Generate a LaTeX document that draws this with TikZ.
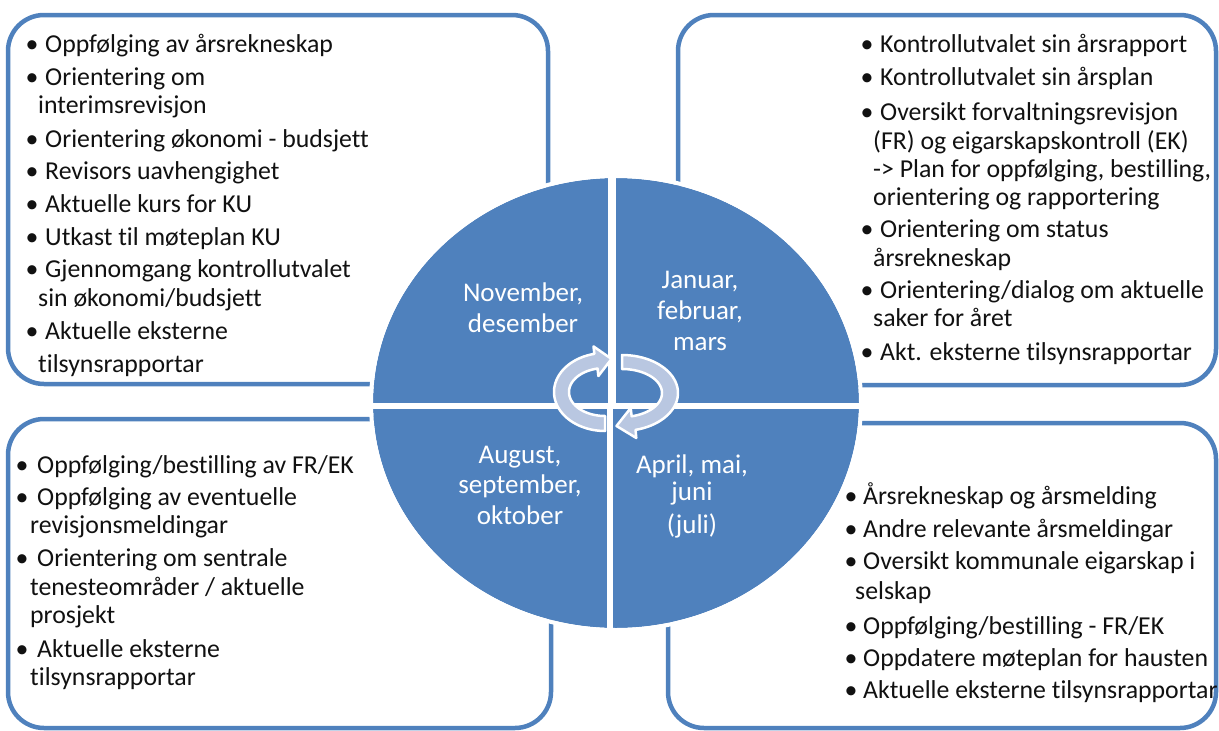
\documentclass[tikz,border=0pt]{standalone}
\usepackage{fontspec}
\setmainfont{Carlito}[Ligatures={NoCommon,NoContextual}]
\definecolor{blu}{HTML}{4F81BD}
\definecolor{arr}{HTML}{B9C7E1}
\definecolor{ink}{HTML}{111111}
\tikzset{
 box/.style={draw=blu, line width=4.5pt, fill=white, rounded corners=36pt},
 tx/.style={anchor=base west, inner sep=0pt, font=\fontsize{25.8}{30}\selectfont, text=ink},
 bu/.style={anchor=base, inner sep=0pt, font=\fontsize{25.8}{30}\selectfont, text=ink},
 mo/.style={anchor=base, inner sep=0pt, font=\fontsize{27}{30}\selectfont, text=white},
 arrowband/.style={fill=arr, draw=white, line width=2.5pt, line join=round}
}
\begin{document}
\begin{tikzpicture}[x=1pt,y=-1pt]
\useasboundingbox (0,0) rectangle (1219,731);
% boxes
\draw[box] (8,15) rectangle (548,384);
\draw[box] (678,15) rectangle (1216,385);
\draw[box] (8,419) rectangle (551,728);
\draw[box] (668,423) rectangle (1216,728);
% ellipse
\fill[blu] (616,403) ellipse [x radius=243, y radius=225];
\draw[white, line width=4pt] (616,403) ellipse [x radius=245, y radius=227];
\draw[white, line width=8pt] (612,170) -- (612,406);
\draw[white, line width=6pt] (610,406) -- (610,640);
\draw[white, line width=6pt] (366,406) -- (866,406);
% central arrows
\filldraw[arrowband] plot[domain=90:258,samples=40] ({605+51*cos(\x)},{392+39*sin(\x)})
  -- (593.5,346.4) -- (611.5,358.9) -- (598.4,376.0)
  -- plot[domain=258:90,samples=40] ({605+36*cos(\x)},{392+24*sin(\x)}) -- cycle;
\filldraw[arrowband] plot[domain=-90:76,samples=40] ({622+56*cos(\x)},{393+38*sin(\x)})
  -- (636.3,438) -- (616.5,426) -- (630.7,408)
  -- plot[domain=76:-90,samples=40] ({622+40*cos(\x)},{393+24*sin(\x)}) -- cycle;
% ellipse labels
\node[mo] (nov1) at (523,301) {November,};
\node[mo] (nov2) at (523,332) {desember};
\node[mo] (jan1) at (700,288) {Januar,};
\node[mo] (jan2) at (700,319) {februar,};
\node[mo] (jan3) at (700,350) {mars};
\node[mo] (aug1) at (520,463) {August,};
\node[mo] (aug2) at (520,493) {september,};
\node[mo] (aug3) at (520,524) {oktober};
\node[mo] (apr1) at (692,473) {April, mai,};
\node[mo] (apr2) at (692,500) {juni};
\node[mo] (apr3) at (692,533) {(juli)};
% top-left box
\node[bu] (tlb1) at (32,52) {•}; \node[tx] (tl1) at (45,52) {Oppfølging av årsrekneskap};
\node[bu] (tlb2) at (32,85) {•}; \node[tx] (tl2) at (45,85) {Orientering om};
\node[tx] (tl2b) at (38,113) {interimsrevisjon};
\node[bu] (tlb3) at (32,147) {•}; \node[tx] (tl3) at (45,147) {Orientering økonomi - budsjett};
\node[bu] (tlb4) at (32,179) {•}; \node[tx] (tl4) at (45,179) {Revisors uavhengighet};
\node[bu] (tlb5) at (32,212) {•}; \node[tx] (tl5) at (45,212) {Aktuelle kurs for KU};
\node[bu] (tlb6) at (32,245) {•}; \node[tx] (tl6) at (45,245) {Utkast til møteplan KU};
\node[bu] (tlb7) at (32,277) {•}; \node[tx] (tl7) at (45,277) {Gjennomgang kontrollutvalet};
\node[tx] (tl7b) at (38,306) {sin økonomi/budsjett};
\node[bu] (tlb8) at (32,339) {•}; \node[tx] (tl8) at (45,339) {Aktuelle eksterne};
\node[tx] (tl8b) at (38,372) {tilsynsrapportar};
% top-right box
\node[bu] (trb1) at (867,52) {•}; \node[tx] (tr1) at (880,52) {Kontrollutvalet sin årsrapport};
\node[bu] (trb2) at (867,85) {•}; \node[tx] (tr2) at (880,85) {Kontrollutvalet sin årsplan};
\node[bu] (trb3) at (867,120) {•}; \node[tx] (tr3) at (880,120) {Oversikt forvaltningsrevisjon};
\node[tx] (tr3b) at (873,149) {(FR) og eigarskapskontroll (EK)};
\node[tx] (tr3c) at (873,177) {-> Plan for oppfølging, bestilling,};
\node[tx] (tr3d) at (873,205) {orientering og rapportering};
\node[bu] (trb4) at (867,237) {•}; \node[tx] (tr4) at (880,237) {Orientering om status};
\node[tx] (tr4b) at (873,266) {årsrekneskap};
\node[bu] (trb5) at (867,298) {•}; \node[tx] (tr5) at (880,298) {Orientering/dialog om aktuelle};
\node[tx] (tr5b) at (873,326) {saker for året};
\node[bu] (trb6) at (867,360) {•}; \node[tx] (tr6) at (880,360) {Akt. eksterne tilsynsrapportar};
% bottom-left box
\node[bu] (blb1) at (22,473) {•}; \node[tx] (bl1) at (37,473) {Oppfølging/bestilling av FR/EK};
\node[bu] (blb2) at (22,505) {•}; \node[tx] (bl2) at (37,505) {Oppfølging av eventuelle};
\node[tx] (bl2b) at (30,533) {revisjonsmeldingar};
\node[bu] (blb3) at (22,566) {•}; \node[tx] (bl3) at (37,566) {Orientering om sentrale};
\node[tx] (bl3b) at (30,595) {tenesteområder / aktuelle};
\node[tx] (bl3c) at (30,623) {prosjekt};
\node[bu] (blb4) at (22,657) {•}; \node[tx] (bl4) at (37,657) {Aktuelle eksterne};
\node[tx] (bl4b) at (30,685) {tilsynsrapportar};
% bottom-right box
\node[bu] (brb1) at (851,504) {•}; \node[tx] (br1) at (863,504) {Årsrekneskap og årsmelding};
\node[bu] (brb2) at (851,537) {•}; \node[tx] (br2) at (863,537) {Andre relevante årsmeldingar};
\node[bu] (brb3) at (851,569) {•}; \node[tx] (br3) at (863,569) {Oversikt kommunale eigarskap i};
\node[tx] (br3b) at (855,599) {selskap};
\node[bu] (brb4) at (851,634) {•}; \node[tx] (br4) at (863,634) {Oppfølging/bestilling - FR/EK};
\node[bu] (brb5) at (851,666) {•}; \node[tx] (br5) at (863,666) {Oppdatere møteplan for hausten};
\node[bu] (brb6) at (851,698) {•}; \node[tx] (br6) at (863,698) {Aktuelle eksterne tilsynsrapportar};
\end{tikzpicture}
\end{document}
